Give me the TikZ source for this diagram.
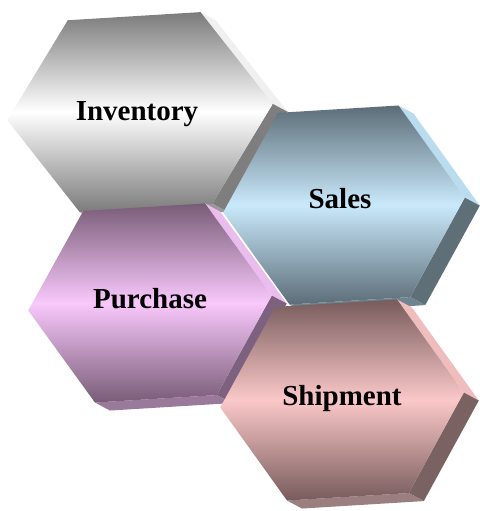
\documentclass[tikz,border=0pt]{standalone}
\usepackage{fontspec}
\setmainfont{Liberation Serif}
\usepackage{tikz}

\definecolor{invTop}{HTML}{7B7B7B}
\definecolor{invMid}{HTML}{FFFFFF}
\definecolor{invSideLight}{HTML}{F0F0F0}
\definecolor{invSideDark}{HTML}{7E7E7E}
\definecolor{invBase}{HTML}{999999}
\definecolor{salTop}{HTML}{5C6D78}
\definecolor{salMid}{HTML}{C9E9FB}
\definecolor{salSideLight}{HTML}{B9DCEF}
\definecolor{salSideDark}{HTML}{5F6F78}
\definecolor{salBase}{HTML}{6E8490}
\definecolor{purTop}{HTML}{785C77}
\definecolor{purMid}{HTML}{F9C8FC}
\definecolor{purSideLight}{HTML}{EBBDEE}
\definecolor{purSideDark}{HTML}{7D6280}
\definecolor{purBase}{HTML}{9A7A9A}
\definecolor{shiTop}{HTML}{785B5C}
\definecolor{shiMid}{HTML}{FBC8C8}
\definecolor{shiSideLight}{HTML}{EFBDBD}
\definecolor{shiSideDark}{HTML}{7A6262}
\definecolor{shiBase}{HTML}{9B7F80}

\newcommand{\hexprism}[8]{%
  \begin{scope}[shift={(#2,#3)},rotate=3.5]
    \coordinate (#1 tl) at (-#4/2,-#5);
    \coordinate (#1 tr) at (#4/2,-#5);
    \coordinate (#1 r) at (#4,0);
    \coordinate (#1 br) at (#4/2,#5);
    \coordinate (#1 bl) at (-#4/2,#5);
    \coordinate (#1 l) at (-#4,0);
  \end{scope}
  \begin{scope}[shift={(#2+15,#3+8)},rotate=3.5]
    \coordinate (#1 trb) at (#4/2,-#5);
    \coordinate (#1 rb) at (#4,0);
    \coordinate (#1 brb) at (#4/2,#5);
    \coordinate (#1 blb) at (-#4/2,#5);
  \end{scope}
  \fill[#1SideLight] (#1 tr) -- (#1 trb) -- (#1 rb) -- (#1 r) -- cycle;
  \fill[#1SideDark] (#1 r) -- (#1 rb) -- (#1 brb) -- (#1 br) -- cycle;
  \fill[#1Base] (#1 br) -- (#1 brb) -- (#1 blb) -- (#1 bl) -- cycle;
  \shade[top color=#1Top, bottom color=#1Top, middle color=#1Mid]
    (#1 tl) -- (#1 tr) -- (#1 r) -- (#1 br) -- (#1 bl) -- (#1 l) -- cycle;
  \node[hexlabel] (#1) at (#7,#8) {#6};
}

\begin{document}
\begin{tikzpicture}[x=1pt, y=-1pt,
                hexlabel/.style={font=\bfseries\fontsize{29}{32}\selectfont, inner sep=0pt, anchor=base}
                ]
                \useasboundingbox (0,0) rectangle (479,511);
                \hexprism{inv}{140}{112}{133}{96}{Inventory}{137}{120}
                \hexprism{sal}{344}{205}{121}{96}{Sales}{340}{208}
                \hexprism{pur}{150}{303}{122}{96}{Purchase}{150}{308}
                \hexprism{shi}{342}{400}{122}{97}{Shipment}{342}{405}
              \end{tikzpicture}
\end{document}
